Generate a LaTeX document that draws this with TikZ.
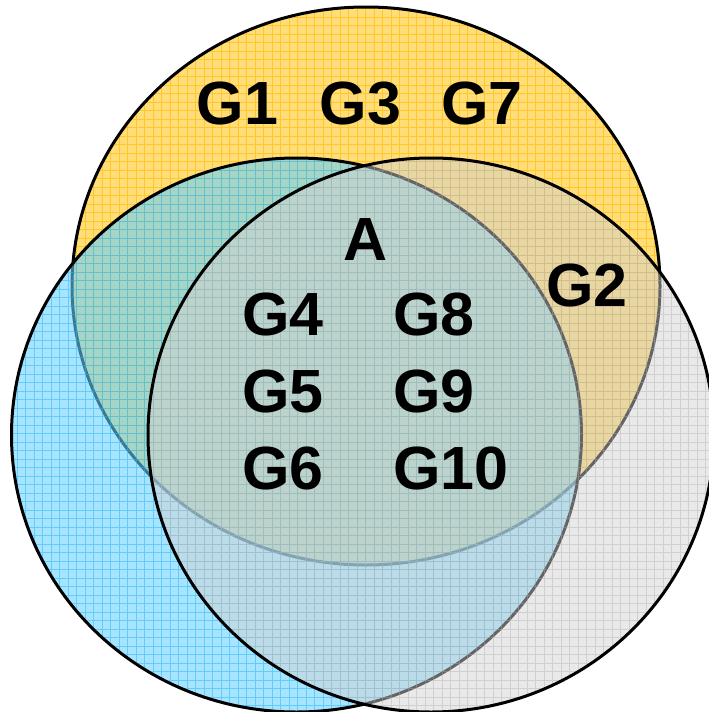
\documentclass[tikz,border=0pt]{standalone}
\usepackage{fontspec}
\setmainfont{Liberation Sans}
\definecolor{yelfill}{HTML}{FFDD78}
\definecolor{yelline}{HTML}{FFC72A}
\definecolor{bluefill}{HTML}{66D0FF}
\definecolor{blueline}{HTML}{20B8F5}
\definecolor{grayfill}{HTML}{D2D2D2}
\definecolor{grayline}{HTML}{ABABAB}
\begin{document}
\begin{tikzpicture}[x=1pt,y=-1pt,
  rim/.style={line width=3pt},
  mesh/.style={line width=0.5pt,step=8.5pt},
  lbl/.style={inner sep=0pt,font=\fontsize{61}{61}\selectfont\bfseries}]
\useasboundingbox (0,0) rectangle (709,712);
\clip (0,0) rectangle (709,712);
\begin{scope}
\clip (366,286) ellipse[x radius=294,y radius=279];
\fill[yelfill] (0,0) rectangle (720,720);
\draw[mesh,yelline] (0,0) grid (720,720);
\end{scope}
\draw[rim] (366,286) ellipse[x radius=294,y radius=279];
\begin{scope}
\clip (296.5,435) ellipse[x radius=285,y radius=277];
\fill[bluefill,fill opacity=0.58] (0,0) rectangle (720,720);
\draw[mesh,blueline,opacity=0.5] (0,0) grid (720,720);
\end{scope}
\draw[rim] (296.5,435) ellipse[x radius=285,y radius=277];
\begin{scope}
\clip (431,435) ellipse[x radius=283,y radius=277];
\fill[grayfill,fill opacity=0.48] (0,0) rectangle (720,720);
\draw[mesh,grayline,opacity=0.4] (0,0) grid (720,720);
\end{scope}
\draw[rim] (431,435) ellipse[x radius=283,y radius=277];
\node[lbl,anchor=base] (g1) at (237.5,124) {G1};
\node[lbl,anchor=base] (g3) at (360.5,124) {G3};
\node[lbl,anchor=base] (g7) at (482,124) {G7};
\node[lbl,anchor=base] (a) at (366,260) {A};
\node[lbl,anchor=base] (g2) at (587,306) {G2};
\node[lbl,anchor=base west] (g4) at (242,335) {G4};
\node[lbl,anchor=base west] (g5) at (242,412) {G5};
\node[lbl,anchor=base west] (g6) at (242,489) {G6};
\node[lbl,anchor=base west] (g8) at (393,335) {G8};
\node[lbl,anchor=base west] (g9) at (393,412) {G9};
\node[lbl,anchor=base west] (g10) at (393,489) {G10};
\end{tikzpicture}
\end{document}
